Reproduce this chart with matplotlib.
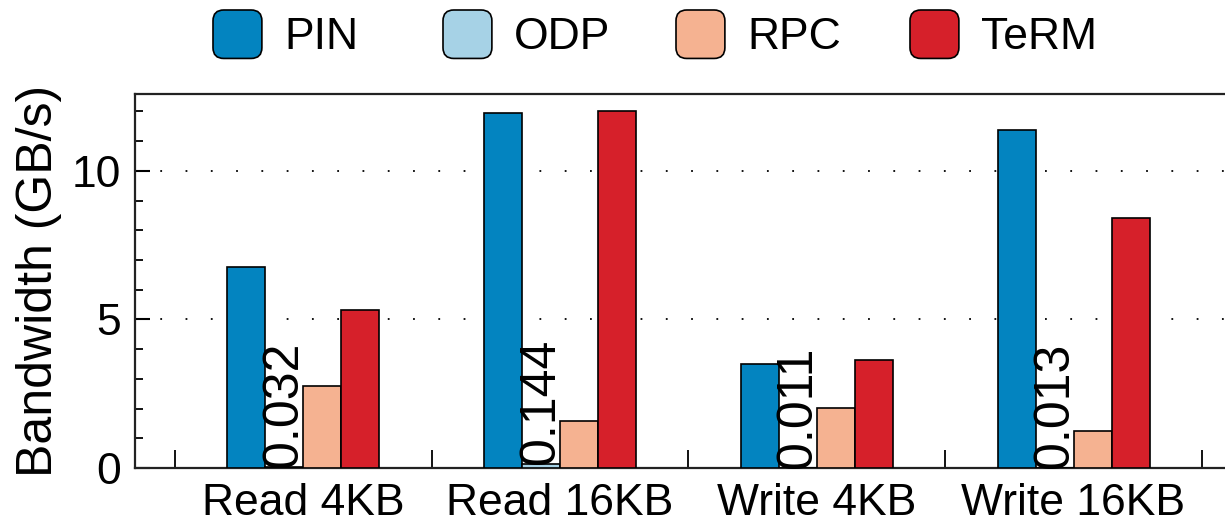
import matplotlib
matplotlib.use("Agg")
import matplotlib.pyplot as plt
import numpy as np
from matplotlib.patches import FancyBboxPatch, Rectangle
from matplotlib.legend_handler import HandlerPatch
from matplotlib.ticker import MultipleLocator, FixedLocator

plt.rcParams['font.family'] = ['Liberation Sans', 'DejaVu Sans']

workloads = ['Read 4KB', 'Read 16KB', 'Write 4KB', 'Write 16KB']
systems = ['PIN', 'ODP', 'RPC', 'TeRM']
pin = [6.76, 11.93, 3.49, 11.38]
odp = [0.032, 0.144, 0.011, 0.013]
rpc = [2.75, 1.57, 2.03, 1.24]
term = [5.33, 12.0, 3.65, 8.42]
colors = ['#0384C0', '#A6D2E6', '#F5B291', '#D6202A']


def rounded_box(legend, orig_handle, xdescent, ydescent, width, height, fontsize):
    return FancyBboxPatch((-xdescent, -ydescent), width, height,
                          boxstyle="round,pad=0,rounding_size=%f" % (0.22 * width))


fig = plt.figure(figsize=(12.25, 5.26), dpi=100)
ax = fig.add_axes([0.110, 0.110, 0.89, 0.711])

x = np.arange(len(workloads))
width = 0.148
series = [pin, odp, rpc, term]
bars = []
for i, (name, vals) in enumerate(zip(systems, series)):
    b = ax.bar(x + (i - 1.5) * width, vals, width, color=colors[i],
               edgecolor='black', linewidth=1.2, label=name, zorder=3)
    bars.append(b)

# ODP is tiny, so print its value vertically on top of the bar
for xi, v in zip(x - 0.5 * width, odp):
    ax.text(xi, v, '%.3f' % v, rotation=90, ha='center', va='bottom',
            fontsize=36, zorder=4)

ax.set_xlim(-0.656, 3.59)
ax.set_ylim(0, 12.58)
ax.set_ylabel('Bandwidth (GB/s)', fontsize=36)
ax.yaxis.set_label_coords(-0.067, 0.5)

ax.set_xticks(x)
ax.set_xticklabels(workloads, fontsize=32)
ax.xaxis.set_minor_locator(FixedLocator(np.arange(-0.5, 4.0, 1.0)))
ax.tick_params(axis='x', which='major', length=0, pad=11)
ax.tick_params(axis='x', which='minor', direction='in', length=13, width=1.3)

ax.yaxis.set_major_locator(MultipleLocator(5))
ax.yaxis.set_minor_locator(MultipleLocator(1))
ax.tick_params(axis='y', which='major', direction='in', length=11, width=1.5,
               labelsize=32, pad=10)
ax.tick_params(axis='y', which='minor', direction='in', length=6, width=1.3)

ax.set_axisbelow(True)
ax.yaxis.grid(True, which='major', color='black', linestyle=(0, (1, 13)),
              linewidth=1.3)

for side in ['left', 'bottom', 'top']:
    ax.spines[side].set_linewidth(1.6)
    ax.spines[side].set_color('#222222')
ax.spines['right'].set_visible(False)

# one legend per entry so the slots are evenly spaced
slot_left = [213, 443, 676, 910]
for b, name, px in zip(bars, systems, slot_left):
    fig.legend(handles=[b[0]], labels=[name], loc='upper left',
               bbox_to_anchor=(px / 1225, 1 - 10 / 526), frameon=False,
               fontsize=32, handlelength=1.1, handleheight=1.3,
               handletextpad=0.5, borderpad=0, borderaxespad=0,
               handler_map={Rectangle: HandlerPatch(patch_func=rounded_box)})

fig.savefig('out.png', dpi=100)
